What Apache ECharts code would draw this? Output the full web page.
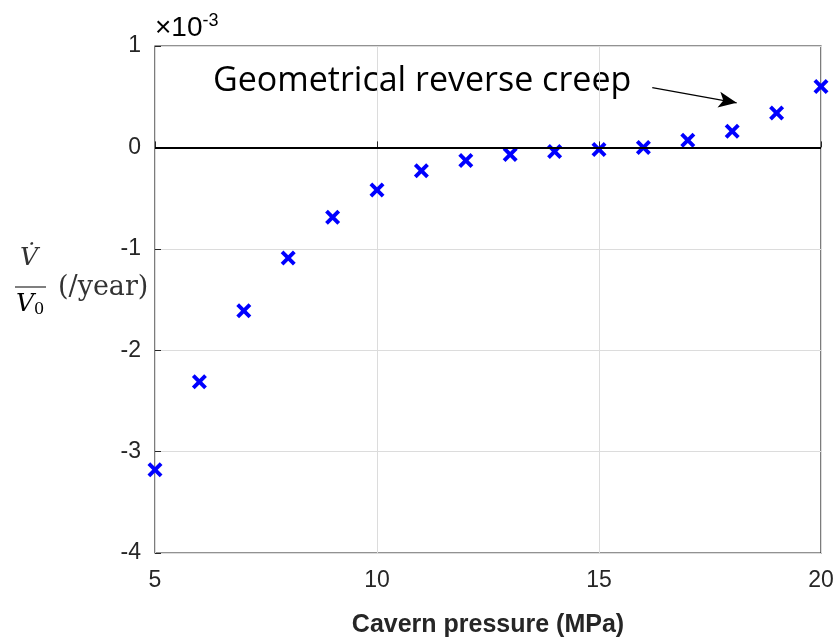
<!DOCTYPE html>
<html><head><meta charset="utf-8">
<script src="https://cdn.jsdelivr.net/npm/echarts@6/dist/echarts.min.js"></script>
<style>html,body{margin:0;padding:0;background:#fff}#c{width:834px;height:641px}</style>
</head><body><div id="c"></div>
<script>
var pressures = [5,6,7,8,9,10,11,12,13,14,15,16,17,18,19,20];
var rates = [-3.18,-2.31,-1.61,-1.09,-0.69,-0.42,-0.23,-0.13,-0.07,-0.04,-0.02,0.0,0.07,0.16,0.34,0.60];
var annotationText = 'Geometrical reverse creep';
var arrowFrom = [16.2, 0.59];
var arrowTo = [18.1, 0.44];

var chart = echarts.init(document.getElementById('c'));
var xSym = 'path://M2.2,0 L6,3.8 L9.8,0 L12,2.2 L8.2,6 L12,9.8 L9.8,12 L6,8.2 L2.2,12 L0,9.8 L3.8,6 L0,2.2 Z';
var tickFont = {fontFamily:'Liberation Sans', fontSize:23, color:'#262626'};
chart.setOption({
  animation:false,
  backgroundColor:'#fff',
  grid:{left:155,right:13,top:46,bottom:88,show:true,borderColor:'#262626',borderWidth:1.2,
        containLabel:false,outerBoundsMode:'none'},
  xAxis:{type:'value',min:5,max:20,interval:5,
    name:'Cavern pressure (MPa)',nameLocation:'middle',nameGap:60,
    nameTextStyle:{fontFamily:'Liberation Sans',fontSize:25,fontWeight:'bold',color:'#262626'},
    axisLine:{show:false},
    axisTick:{show:true,inside:true,length:6,lineStyle:{color:'#262626'}},
    axisLabel:Object.assign({margin:16},tickFont),
    splitLine:{show:true,lineStyle:{color:'#dcdcdc',width:1}}
  },
  yAxis:{type:'value',min:-4,max:1,interval:1,
    axisLine:{show:false},
    axisTick:{show:true,inside:true,length:6,lineStyle:{color:'#262626'}},
    axisLabel:Object.assign({margin:14},tickFont),
    splitLine:{show:true,lineStyle:{color:'#dcdcdc',width:1}}
  },
  series:[{
    type:'scatter',
    data:pressures.map(function(p,i){return [p,rates[i]];}),
    symbol:xSym,symbolSize:15,
    itemStyle:{color:'#0000ff',opacity:1},
    markLine:{silent:true,symbol:'none',label:{show:false},
      lineStyle:{color:'#000',width:2,type:'solid'},
      data:[{yAxis:0},
        [{coord:arrowFrom,symbol:'none',lineStyle:{width:1.3,color:'#000'}},
         {coord:arrowTo,symbol:'arrow',symbolSize:[12,18],lineStyle:{width:1.3,color:'#000'}}]
      ]}
  }],
  graphic:[
    {type:'text',left:213,top:64,style:{text:annotationText,font:'34px "Open Sans", "Liberation Sans", sans-serif',fill:'#000'}},
    {type:'text',left:155,top:12,style:{
      rich:{a:{fontFamily:'Liberation Sans',fontSize:28,color:'#262626'},
            b:{fontFamily:'Liberation Sans',fontSize:18,color:'#262626',padding:[0,0,14,0]}},
      text:'{a|×10}{b|-3}'}},
    {type:'text',left:20,top:246,style:{text:'V̇',font:'italic 25px "DejaVu Serif", "Liberation Serif", serif',fill:'#333'}},
    {type:'line',shape:{x1:15,y1:287,x2:46,y2:287},style:{stroke:'#555',lineWidth:1.5}},
    {type:'text',left:16,top:292,style:{rich:{v:{fontFamily:'DejaVu Serif',fontStyle:'italic',fontSize:25,color:'#333'},
      s:{fontFamily:'DejaVu Serif',fontSize:16,color:'#333',padding:[10,0,0,0]}},text:'{v|V}{s|0}'}},
    {type:'text',left:58,top:274,style:{text:'(/year)',font:'27px "DejaVu Serif", serif',fill:'#333'}}
  ]
});
</script></body></html>
